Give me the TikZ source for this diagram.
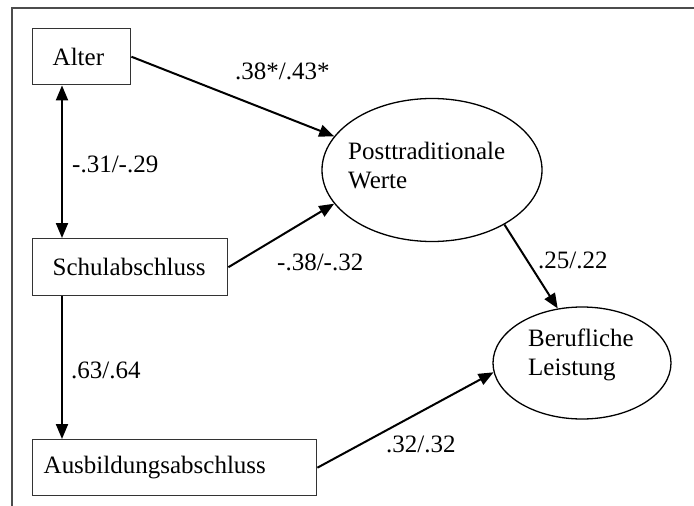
\documentclass[tikz,border=0pt]{standalone}
\usepackage{fontspec}
\setmainfont{Liberation Serif}
\usetikzlibrary{arrows.meta,shapes.geometric}

\begin{document}
\begin{tikzpicture}[x=1pt,y=-1pt,
  every node/.style={font=\fontsize{25}{29}\selectfont},
  varbox/.style={draw=black!80, line width=1.4pt, align=left, anchor=north west,
    minimum height=56pt, inner ysep=0pt},
  latent/.style={draw, ellipse, line width=1.3pt, inner sep=0pt},
  latenttext/.style={anchor=west, align=left, inner sep=0pt},
  effect/.style={line width=2pt, -{Triangle[length=15pt,width=12pt]}},
  corr/.style={line width=2pt, {Triangle[length=15pt,width=12pt]}-{Triangle[length=15pt,width=12pt]}},
  coef/.style={anchor=base west, inner sep=0pt},
  frameline/.style={draw=black!70, line width=2pt}]

\useasboundingbox (0,0) rectangle (694,506);

% open frame (top and left edge)
\draw[frameline] (11.5,506) -- (11.5,7.5) -- (694,7.5);

% observed variables
\node[varbox, inner xsep=20pt, text width=58pt]  (alter) at (32,28)  {Alter};
\node[varbox, inner xsep=20pt, text width=155pt, minimum height=57pt] (schul) at (32,238) {Schulabschluss};
\node[varbox, inner xsep=11pt, text width=262pt] (ausb)  at (32,439) {Ausbildungsabschluss};

% latent variables
\node[latent, minimum width=220pt, minimum height=143pt] (post)  at (432,170) {};
\node[latent, minimum width=178pt, minimum height=112pt] (beruf) at (582,363) {};
\node[latenttext] (postT)  at (348,166) {Posttraditionale\\Werte};
\node[latenttext] (berufT) at (528,355) {Berufliche\\Leistung};

% paths
\draw[effect] (alter.east) -- (post.161);
\draw[corr] ([xshift=30pt]alter.south west) -- ([xshift=30pt]schul.north west);
\draw[effect] (schul.east) -- (post.199);
\draw[effect] ([xshift=30pt]schul.south west) -- ([xshift=30pt]ausb.north west);
\draw[effect] (post.323) -- (beruf.114);
\draw[effect] (ausb.east) -- (beruf.186);

% coefficients
\node[coef] (c1) at (235,79)  {.38*/.43*};
\node[coef] (c2) at (72,172)  {-.31/-.29};
\node[coef] (c3) at (277,270) {-.38/-.32};
\node[coef] (c4) at (538,268) {.25/.22};
\node[coef] (c5) at (71,378)  {.63/.64};
\node[coef] (c6) at (386,452) {.32/.32};
\end{tikzpicture}
\end{document}
